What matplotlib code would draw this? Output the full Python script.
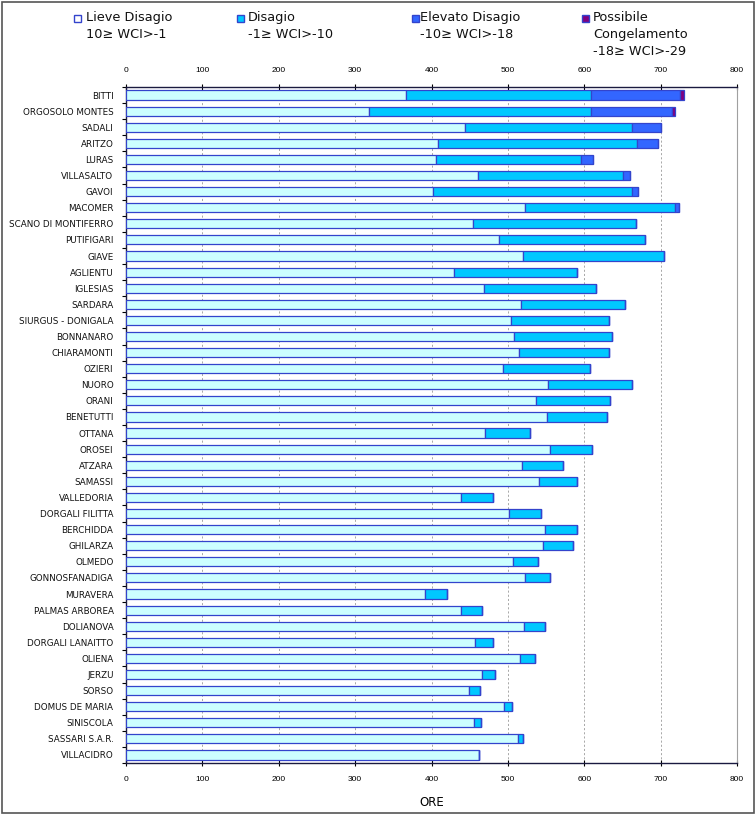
import matplotlib
matplotlib.use("Agg")
import matplotlib.pyplot as plt
from matplotlib.patches import Rectangle
import numpy as np

cities = ["BITTI", "ORGOSOLO MONTES", "SADALI", "ARITZO", "LURAS", "VILLASALTO", "GAVOI",
          "MACOMER", "SCANO DI MONTIFERRO", "PUTIFIGARI", "GIAVE", "AGLIENTU", "IGLESIAS",
          "SARDARA", "SIURGUS - DONIGALA", "BONNANARO", "CHIARAMONTI", "OZIERI", "NUORO",
          "ORANI", "BENETUTTI", "OTTANA", "OROSEI", "ATZARA", "SAMASSI", "VALLEDORIA",
          "DORGALI FILITTA", "BERCHIDDA", "GHILARZA", "OLMEDO", "GONNOSFANADIGA", "MURAVERA",
          "PALMAS ARBOREA", "DOLIANOVA", "DORGALI LANAITTO", "OLIENA", "JERZU", "SORSO",
          "DOMUS DE MARIA", "SINISCOLA", "SASSARI S.A.R.", "VILLACIDRO"]

lieve = [367, 318, 444, 408, 406, 461, 402, 522, 454, 488, 520, 430, 469, 517, 504, 508, 515,
         494, 553, 537, 551, 470, 555, 518, 541, 439, 502, 549, 546, 507, 523, 391, 438, 521,
         457, 516, 466, 449, 495, 456, 513, 462]
disagio = [242, 291, 219, 261, 190, 190, 261, 197, 214, 192, 184, 161, 147, 136, 129, 128, 118,
           114, 109, 97, 79, 59, 55, 54, 50, 42, 42, 42, 39, 33, 32, 29, 28, 27, 23, 20, 17, 14,
           10, 9, 7, 0]
elevato = [117, 106, 38, 27, 15, 9, 7, 5] + [0] * 34
possibile = [4, 4] + [0] * 40

series_labels = ["Lieve Disagio\n10\u2265 WCI>-1", "Disagio\n-1\u2265 WCI>-10",
                 "Elevato Disagio\n-10\u2265 WCI>-18", "Possibile\nCongelamento\n-18\u2265 WCI>-29"]
colors = ["#CCFFFF", "#00C8FF", "#3366FF", "#800080"]
edge = "#3344CC"
xticks = [0, 100, 200, 300, 400, 500, 600, 700, 800]

W, H = 756, 815
fig = plt.figure(figsize=(W / 100, H / 100), dpi=100)
ax = fig.add_axes([126 / W, 1 - 763 / H, (737 - 126) / W, (763 - 87) / H])

y = np.arange(len(cities))
left = np.zeros(len(cities))
for vals, col in zip([lieve, disagio, elevato, possibile], colors):
    v = np.array(vals, dtype=float)
    ax.barh(y, v, left=left, height=0.57, color=col, edgecolor=edge, linewidth=0.9, zorder=3)
    left += v

ax.set_xlim(0, 800)
ax.set_ylim(len(cities) - 0.5, -0.5)
ax.set_xticks(xticks)
ax.set_xticklabels([str(t) for t in xticks], fontsize=6, family="Liberation Sans")
ax.tick_params(axis="x", top=True, labeltop=True, bottom=True, labelbottom=True,
               direction="inout", length=5, width=0.8, pad=7)
ax.set_yticks(y)
ax.set_yticklabels(cities, fontsize=6.3, color="#111111")
ax.set_yticks(np.arange(len(cities) + 1) - 0.5, minor=True)
ax.tick_params(axis="y", which="major", length=0, pad=9)
ax.tick_params(axis="y", which="minor", length=3, width=0.8, direction="out")
ax.grid(axis="x", linestyle=(0, (2.5, 2.5)), color="#9A9A9A", linewidth=0.6, zorder=0)
ax.set_axisbelow(True)

for s in ["left", "bottom", "top"]:
    ax.spines[s].set_color("#1a1a40")
    ax.spines[s].set_linewidth(1.0)
ax.spines["right"].set_color("#A0A0A0")

ax.set_xlabel("ORE", fontsize=8.5, labelpad=9)

# legend
mx = [77, 240, 415, 585]
tx = [86, 248, 420, 593]
for m, t, lab, col in zip(mx, tx, series_labels, colors):
    fig.patches.append(Rectangle(((m - 3.5) / W, 1 - 21.5 / H), 7 / W, 7 / H,
                                 transform=fig.transFigure, facecolor=col if col != "#CCFFFF" else "#FFFFFF",
                                 edgecolor=edge, linewidth=1.0))
    fig.text(t / W, 1 - 11 / H, lab, fontsize=9.3, va="top", ha="left", linespacing=1.38,
             color="#111111")

fig.patches.append(Rectangle((2 / W, 2 / H), (W - 4) / W, (H - 4) / H, transform=fig.transFigure,
                             fill=False, edgecolor="#555555", linewidth=1.2))

fig.savefig("out.png", dpi=100)
